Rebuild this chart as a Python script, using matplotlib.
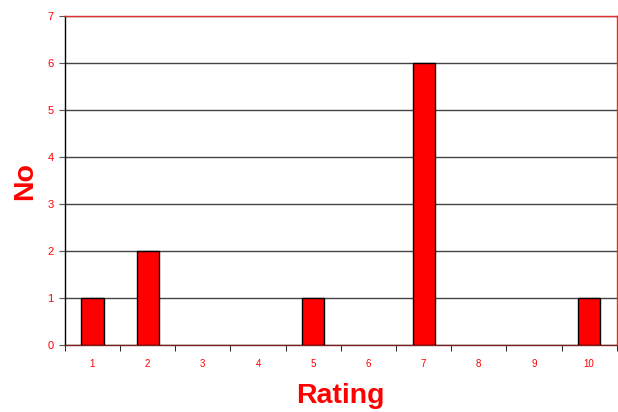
import matplotlib
matplotlib.use("Agg")
import matplotlib.pyplot as plt

ratings = ["1", "2", "3", "4", "5", "6", "7", "8", "9", "10"]
counts = [1, 2, 0, 0, 1, 0, 6, 0, 0, 1]
yticks = [0, 1, 2, 3, 4, 5, 6, 7]

plt.rcParams['font.family'] = ['Liberation Sans', 'DejaVu Sans']
RED = '#ff0000'

fig = plt.figure(figsize=(6.18, 4.12), dpi=100)
ax = fig.add_axes([0.105, 0.1626, 0.893, 0.7985])

x = list(range(len(ratings)))
lws = [1 if c > 0 else 0 for c in counts]
ax.bar(x, counts, width=0.4, color=RED, edgecolor='black', linewidth=lws, zorder=3)

ax.set_xlim(-0.5, len(ratings) - 0.5)
ax.set_ylim(0, 7)
ax.set_yticks(yticks)
ax.set_yticklabels([str(v) for v in yticks], color=RED, fontsize=8)
ax.set_xticks(x)
ax.set_xticklabels(ratings, color=RED, fontsize=7)
ax.tick_params(axis='x', length=0, pad=10)
ax.set_xticks([i - 0.5 for i in range(len(ratings) + 1)], minor=True)
ax.tick_params(axis='x', which='minor', length=4, direction='out', color='black')
ax.tick_params(axis='y', length=4, direction='out', color='#555555', pad=4)

ax.yaxis.grid(True, color='#444444', linewidth=1, zorder=0)
ax.set_axisbelow(True)

ax.spines['left'].set_color('black')
ax.spines['bottom'].set_color('#7a2020')
ax.spines['top'].set_color('#e03030')
ax.spines['right'].set_color('#e03030')
for s in ax.spines.values():
    s.set_linewidth(1)

ax.set_xlabel('Rating', color=RED, fontsize=20.5, fontweight='bold', labelpad=10)
ax.set_ylabel('No', color=RED, fontsize=20.5, fontweight='bold', labelpad=7)

fig.savefig('out.png', dpi=100)
